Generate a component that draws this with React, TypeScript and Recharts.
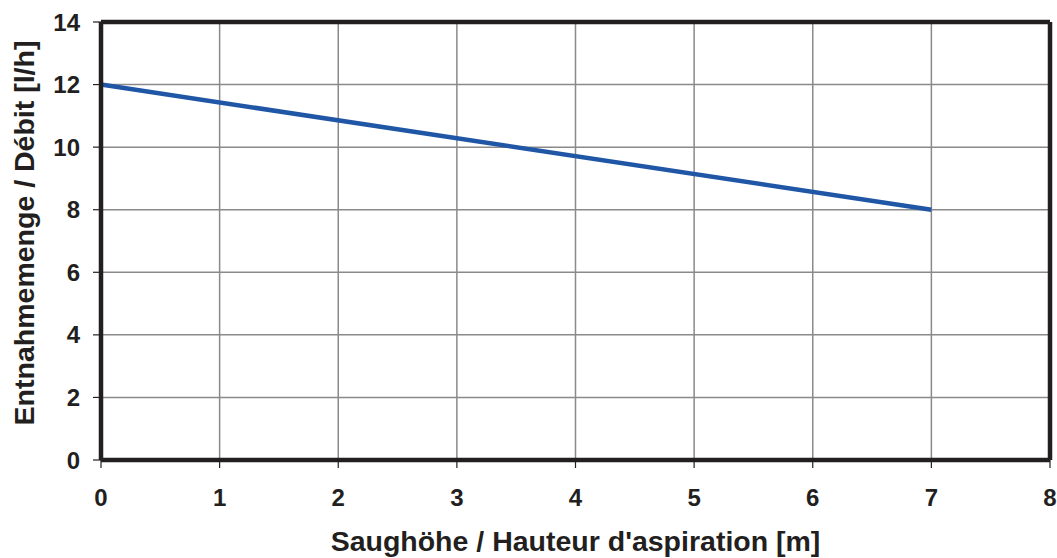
import React from 'react';
import { LineChart, Line, XAxis, YAxis, CartesianGrid } from 'recharts';

const heights = [0, 7];
const flows = [12, 8];
const xTicks = [0, 1, 2, 3, 4, 5, 6, 7, 8];
const yTicks = [0, 2, 4, 6, 8, 10, 12, 14];
const xTitle = "Saughöhe / Hauteur d'aspiration [m]";
const yTitle = 'Entnahmemenge / Débit [l/h]';

const data = heights.map((h, i) => ({ h, q: flows[i] }));

const FONT = '"Liberation Sans", Arial, sans-serif';
const DARK = '#231f20';
const BORDER = { stroke: DARK, strokeWidth: 4.5 };

export default function App() {
  return (
    <div style={{ position: 'absolute', left: 0, top: 0, width: 1057, height: 558, background: '#fff' }}>
      <LineChart width={1057} height={558} data={data} margin={{ top: 21, right: 6, left: 0, bottom: 0 }}>
        <CartesianGrid xAxisId="main" yAxisId="main" stroke="#8a8a8a" strokeWidth={1.5} vertical horizontal />
        <XAxis
          xAxisId="main"
          dataKey="h"
          type="number"
          domain={[0, 8]}
          ticks={xTicks}
          height={98}
          tickSize={8}
          tickMargin={21}
          axisLine={BORDER}
          tickLine={{ stroke: DARK, strokeWidth: 1.2 }}
          tick={{ fill: DARK, fontSize: 24, fontWeight: 'bold', fontFamily: FONT }}
          label={{
            content: (props: any) => {
              const vb = props.viewBox || { x: 101, y: 460, width: 949, height: 98 };
              const cx = vb.x + vb.width / 2;
              return (
                <text
                  x={cx}
                  y={vb.y + vb.height - 7}
                  textAnchor="middle"
                  fill={DARK}
                  fontSize={28.5}
                  fontWeight="bold"
                  fontFamily={FONT}
                >
                  {xTitle}
                </text>
              );
            },
          }}
        />
        <XAxis
          xAxisId="top"
          orientation="top"
          dataKey="h"
          type="number"
          domain={[0, 8]}
          ticks={xTicks}
          height={1}
          tick={false}
          tickLine={false}
          axisLine={BORDER}
        />
        <YAxis
          yAxisId="main"
          type="number"
          domain={[0, 14]}
          ticks={yTicks}
          width={101}
          tickSize={8}
          tickMargin={13}
          axisLine={BORDER}
          tickLine={{ stroke: DARK, strokeWidth: 1.2 }}
          tick={{ fill: DARK, fontSize: 24, fontWeight: 'bold', fontFamily: FONT }}
          label={{
            content: () => {
              const cx = 24;
              const cy = 233;
              return (
                <text
                  x={cx}
                  y={cy}
                  transform={`rotate(-90 ${cx} ${cy})`}
                  textAnchor="middle"
                  dominantBaseline="central"
                  fill={DARK}
                  fontSize={28.5}
                  fontWeight="bold"
                  fontFamily={FONT}
                >
                  {yTitle}
                </text>
              );
            },
          }}
        />
        <YAxis
          yAxisId="right"
          orientation="right"
          type="number"
          domain={[0, 14]}
          ticks={yTicks}
          width={1}
          tick={false}
          tickLine={false}
          axisLine={BORDER}
        />
        <Line
          xAxisId="main"
          yAxisId="main"
          dataKey="q"
          stroke="#1f56a5"
          strokeWidth={4.5}
          dot={false}
          isAnimationActive={false}
        />
      </LineChart>
    </div>
  );
}
